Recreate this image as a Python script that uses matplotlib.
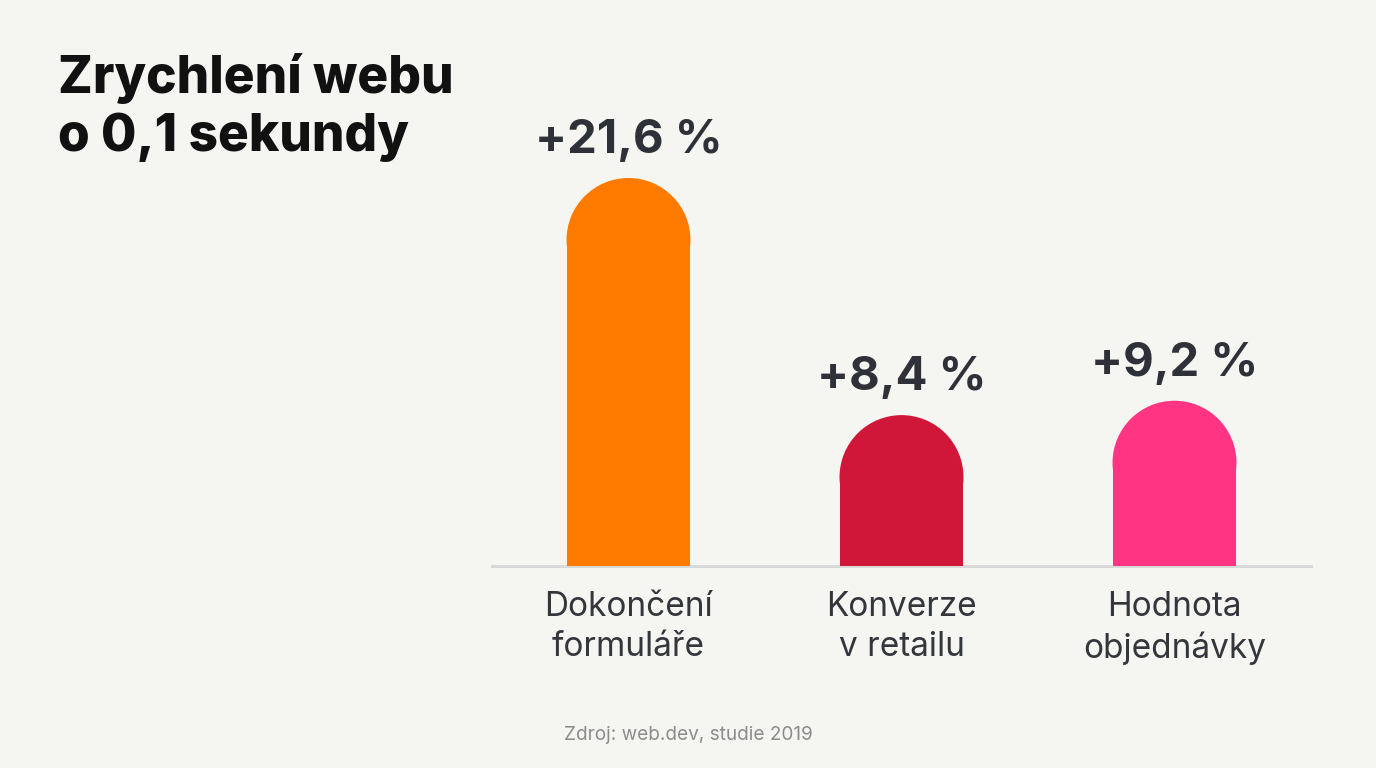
import matplotlib.pyplot as plt
from matplotlib.patches import Ellipse

# data
categories = ["Dokončení\nformuláře", "Konverze\nv retailu", "Hodnota\nobjednávky"]
values = [21.6, 8.4, 9.2]
value_labels = ["+21,6 %", "+8,4 %", "+9,2 %"]
colors = ["#FF7B00", "#D0173A", "#FF3584"]

bg = "#F5F5F2"
W, H = 1376, 768

fig = plt.figure(figsize=(W / 100, H / 100), dpi=100, facecolor=bg)

# axes placed in pixel terms: x 492..1311, baseline at y=566
ymax = 26.0
px_per_unit = 388 / 21.6
ax_h = ymax * px_per_unit
ax = fig.add_axes([492 / W, (H - 566) / H, (1311 - 492) / W, ax_h / H])
ax.set_facecolor(bg)
ax.set_xlim(-0.5, 2.5)
ax.set_ylim(0, ymax)

bar_w = 0.454
# radius of the rounded top in y data units (half the bar width in pixels)
r_px = bar_w * 273 / 2
r_y = r_px / px_per_unit

for i, (v, c) in enumerate(zip(values, colors)):
    ax.bar(i, v - r_y, width=bar_w, color=c, linewidth=0, zorder=2)
    ax.add_patch(Ellipse((i, v - r_y), bar_w, 2 * r_y, color=c, linewidth=0, zorder=2))
    ax.annotate(value_labels[i], (i, v), xytext=(0, 18), textcoords="offset points",
                ha="center", va="baseline", fontsize=34, fontweight="bold",
                color="#2E3238", family="Inter")

# baseline
for s in ["top", "right", "left"]:
    ax.spines[s].set_visible(False)
ax.spines["bottom"].set_color("#D9D9D9")
ax.spines["bottom"].set_linewidth(2.2)
ax.spines["bottom"].set_zorder(1)
ax.set_yticks([])
ax.set_xticks(range(len(categories)))
ax.set_xticklabels(categories, fontsize=24, color="#33363B", family="Inter",
                   linespacing=1.32)
ax.tick_params(axis="x", length=0, pad=18)

# title
fig.text(58 / W, 1 - 53 / H, "Zrychlení webu\no 0,1 sekundy", ha="left", va="top",
         fontsize=37, fontweight="heavy", color="#111111", family="Inter",
         linespacing=1.23)

# source
fig.text(0.5, 1 - 735 / H, "Zdroj: web.dev, studie 2019", ha="center", va="center",
         fontsize=13.7, color="#8C8C8C", family="Inter")

fig.savefig("out.png", dpi=100, facecolor=bg)
